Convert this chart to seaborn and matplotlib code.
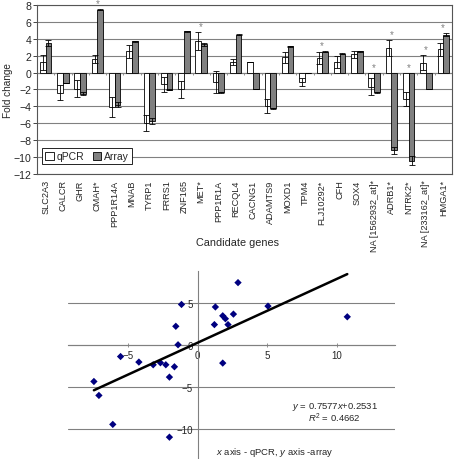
import numpy as np
import pandas as pd
import matplotlib
matplotlib.use('Agg')
import matplotlib.pyplot as plt
import seaborn as sns

# ---------- data ----------
genes = ["SLC2A3", "CALCR", "GHR", "CMAH*", "PPP1R14A", "MNAB", "TYRP1", "FRRS1",
         "ZNF165", "MET*", "PPP1R1A", "RECQL4", "CACNG1", "ADAMTS9", "MOXD1", "TPM4",
         "FLJ10292*", "CFH", "SOX4", "NA [1562932_at]*", "ADRB1*", "NTRK2*",
         "NA [233162_at]*", "HMGA1*"]
qpcr = [1.2, -2.4, -1.9, 1.6, -4.1, 2.5, -6.0, -1.4, -2.0, 3.75, -1.1, 1.2,
        1.3, -3.95, 1.8, -1.1, 1.75, 1.2, 2.15, -1.7, 2.9, -3.15, 1.15, 2.75]
qpcr_err = [0.9, 0.9, 1.0, 0.5, 1.2, 0.75, 0.95, 0.9, 1.0, 1.05, 1.3, 0.35,
            0.0, 0.8, 0.65, 0.5, 0.7, 0.7, 0.4, 1.0, 0.9, 0.8, 0.9, 0.75]
array = [3.5, -1.3, -2.5, 7.45, -3.8, 3.7, -5.75, -2.05, 4.9, 3.35, -2.35, 4.5,
         -2.0, -4.25, 3.1, 0.0, 2.45, 2.25, 2.5, -2.35, -9.2, -10.45, -2.0, 4.5]
array_err = [0.4, 0.0, 0.2, 0.05, 0.3, 0.05, 0.35, 0.05, 0.05, 0.2, 0.1, 0.05,
             0.0, 0.1, 0.05, 0.0, 0.05, 0.1, 0.05, 0.05, 0.4, 0.5, 0.0, 0.15]
significant = [False, False, False, True, False, False, False, False, False, True,
               False, False, False, False, False, False, True, False, False, True,
               True, True, True, True]

# scatter: x = qPCR, y = array
sc_x = [2.9, -1.17, 1.27, 5.06, 1.8, 1.99, 2.57, -1.58, 1.2, 2.18, -1.42, -5.56,
        10.77, -4.24, -3.21, -2.69, -2.3, -1.68, -2.04, -7.48, -7.12, -6.12, -2.04, 1.8]
sc_y = [7.4, 4.8, 4.5, 4.6, 3.45, 3.1, 3.65, 2.2, 2.4, 2.4, 0.0, -1.4,
        3.33, -2.06, -2.38, -2.14, -2.38, -2.62, -3.85, -4.37, -6.03, -9.48, -11.0, -2.18]
slope, intercept, r2 = 0.7577, 0.2531, 0.4662

sns.set_style('white')
plt.rcParams['font.family'] = ['Liberation Sans', 'DejaVu Sans']
plt.rcParams['mathtext.fontset'] = 'custom'
plt.rcParams['mathtext.rm'] = 'Liberation Sans'
plt.rcParams['mathtext.it'] = 'Liberation Sans:italic'

fig = plt.figure(figsize=(4.56, 4.6), dpi=100)

# ---------- top: grouped bar chart ----------
ax1 = fig.add_axes([0.081, 0.620, 0.910, 0.367])
n = len(genes)
df = pd.DataFrame({'gene': genes * 2,
                   'method': ['qPCR'] * n + ['Array'] * n,
                   'value': qpcr + array})
sns.barplot(data=df, x='gene', y='value', hue='method',
            palette={'qPCR': 'white', 'Array': '#808080'},
            edgecolor='black', linewidth=0.6, width=0.66, errorbar=None,
            ax=ax1, zorder=3)

for cont, vals, errs in zip(ax1.containers, [qpcr, array], [qpcr_err, array_err]):
    xs = [b.get_x() + b.get_width() / 2 for b in cont]
    ax1.errorbar(xs, vals, yerr=errs, fmt='none', ecolor='black',
                 elinewidth=0.6, capsize=2, capthick=0.6, zorder=4)

for i, sig in enumerate(significant):
    if sig:
        top = max(0, qpcr[i] + qpcr_err[i], array[i] + array_err[i])
        ax1.text(i, top + 0.7, '*', color='#808080', ha='center', va='center',
                 fontsize=7, clip_on=False)

ax1.set_ylim(-12, 8)
ax1.set_xlim(-0.5, n - 0.5)
ax1.set_yticks(np.arange(-12, 9, 2))
ax1.set_axisbelow(True)
ax1.yaxis.grid(True, color='#808080', lw=0.8)
ax1.axhline(0, color='#808080', lw=0.8, zorder=2)
ax1.vlines(np.arange(n + 1) - 0.5, -0.35, 0, color='#808080', lw=0.6, zorder=2)
for s in ax1.spines.values():
    s.set_color('#555555')
    s.set_linewidth(0.8)
ax1.tick_params(axis='y', labelsize=7.6, length=3, width=0.6, pad=1, left=True)
ax1.tick_params(axis='x', labelsize=6.6, length=0, pad=4, labelrotation=90)
ax1.set_xlabel('')
ax1.set_ylabel('Fold change', fontsize=7.2)
ax1.yaxis.set_label_coords(-0.058, 0.5)
leg = ax1.legend(loc='lower left', bbox_to_anchor=(0.0, 0.025), ncol=2,
                 fontsize=7.5, handlelength=0.8, handleheight=0.8,
                 columnspacing=0.8, handletextpad=0.3, borderpad=0.3,
                 fancybox=False, framealpha=1)
leg.get_frame().set_edgecolor('black')
leg.get_frame().set_linewidth(0.6)
fig.text(238 / 456, 1 - 243 / 460, 'Candidate genes', ha='center', va='center',
         fontsize=7.8)

# ---------- bottom: qPCR vs array scatter ----------
ax2 = fig.add_axes([0.149, 0.0, 0.717, 0.409])
sns.scatterplot(x=sc_x, y=sc_y, marker='D', color='#000080', s=14,
                edgecolor='none', ax=ax2, zorder=3)
line_x = np.array([min(sc_x), max(sc_x)])
ax2.plot(line_x, slope * line_x + intercept, color='black', lw=1.8, zorder=4)

ax2.set_xlim(-9.35, 14.2)
ax2.set_ylim(-13.6, 8.8)
ax2.set_xticks([-5, 0, 5, 10])
ax2.set_yticks([-10, -5, 0, 5])
ax2.spines['left'].set_position('zero')
ax2.spines['bottom'].set_position('zero')
ax2.spines['top'].set_visible(False)
ax2.spines['right'].set_visible(False)
for s in ['left', 'bottom']:
    ax2.spines[s].set_color('#808080')
    ax2.spines[s].set_linewidth(0.8)
ax2.yaxis.grid(True, color='#808080', lw=0.8)
ax2.tick_params(axis='both', labelsize=7, direction='inout', length=3,
                width=0.6, color='#808080', pad=2, left=True, bottom=True)

ax2.text(9.86, -7.26, '$y$ = 0.7577$x$+0.2531', ha='center', va='center',
         fontsize=6.8)
ax2.text(9.86, -8.7, '$R^2$ = 0.4662', ha='center', va='center', fontsize=6.8)
fig.text(275 / 456, 1 - 453 / 460, '$x$ axis - qPCR, $y$ axis -array',
         ha='center', va='center', fontsize=6.8)

fig.savefig('out.png', dpi=100)
